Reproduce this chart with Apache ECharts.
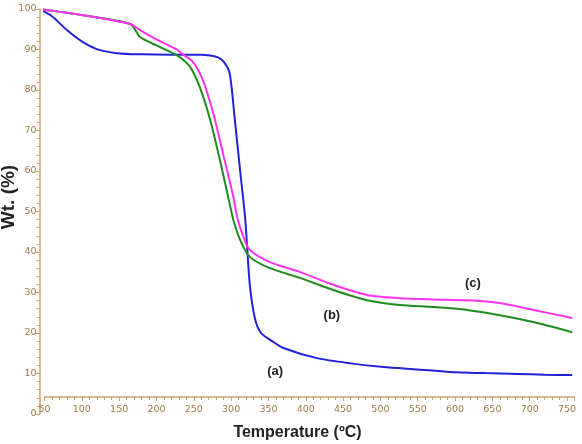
<!DOCTYPE html>
<html><head><meta charset="utf-8">
<script src="https://cdn.jsdelivr.net/npm/echarts@6/dist/echarts.min.js"></script>
<style>html,body{margin:0;padding:0;background:#fff}#c{width:582px;height:444px}</style>
</head><body><div id="c"></div>
<script>
var tempA = [43,60,80,100,120,147,180,220,260,272,283,290,298,305,312,319,325,332,340,355,370,415,460,504,550,593,640,683,720,757];
var wtA   = [100,98.2,94.8,92,90.1,89.1,88.8,88.7,88.7,88.5,88,87,84.2,72.6,60.2,47.9,32,23.5,20,18,16.3,13.8,12.5,11.6,11,10.4,10.1,9.9,9.7,9.6];
var tempB = [43,100,165,178,200,228,245,258,272,285,299,303,312,325,352,392,437,482,526,571,616,660,705,757];
var wtB   = [100,98.5,96.3,93.1,91,88.5,85.7,80.7,72.6,62.7,51.1,47.9,43,38.8,36,33.6,30.6,28.1,26.9,26.4,25.7,24.4,22.7,20.2];
var tempC = [43,100,165,178,200,228,233,249,262,276,289,303,309,318,325,352,392,437,482,526,571,616,660,705,757];
var wtC   = [100,98.5,96.3,94.8,92.5,89.9,89.1,86.9,82.5,74.3,64.4,53.6,47.9,43,40.5,37.5,35.1,31.9,29.4,28.6,28.3,28.1,27.4,25.7,23.7];
var seriesNames = ['(a)','(b)','(c)'];
var labelPos = [[359,10.4],[435,24.4],[624,32.3]];
var xTitle = 'Temperature (ºC)';
var yTitle = 'Wt. (%)';

function pairs(t,w){return t.map(function(v,i){return [v,w[i]];});}
var axisColor = '#c9a46a';
var labelColor = '#a07a45';
var chart = echarts.init(document.getElementById('c'));
function mk(name,t,w,color,lp){
  return {type:'line',name:name,data:pairs(t,w),showSymbol:false,smooth:0.25,clip:false,
    lineStyle:{color:color,width:2},itemStyle:{color:color},
    markPoint:{symbol:'circle',symbolSize:0,data:[{coord:lp,value:name}],
      label:{show:true,position:'inside',formatter:name,color:'#222',fontWeight:'bold',fontSize:13,fontFamily:'Liberation Sans'}}};
}
chart.setOption({
  animation:false,
  grid:{left:44.5,right:7.5,top:9,bottom:30,outerBoundsMode:'none',containLabel:false},
  graphic:[
    {type:'text',x:9,y:197,rotation:Math.PI/2,
      style:{text:yTitle,fill:'#222',font:'bold 19px "Liberation Sans"',align:'center',verticalAlign:'middle'}},
    {type:'text',x:297.5,y:433,
      style:{text:xTitle,fill:'#222',font:'bold 16px "Liberation Sans"',align:'center',verticalAlign:'middle'}}
  ],
  xAxis:{type:'value',min:50,max:760,interval:50,offset:-17,
    axisLine:{show:true,onZero:false,lineStyle:{color:axisColor,width:1.5}},
    axisTick:{show:true,length:4,lineStyle:{color:axisColor}},
    minorTick:{show:true,splitNumber:5,length:3,lineStyle:{color:axisColor}},
    axisLabel:{color:labelColor,fontSize:9.5,fontFamily:'DejaVu Sans',margin:8,showMaxLabel:false,
      formatter:function(v){return v%50===0?String(v):'';}},
    splitLine:{show:false}},
  yAxis:{type:'value',min:0,max:100,interval:10,offset:5,
    axisLine:{show:true,lineStyle:{color:axisColor,width:1.5}},
    axisTick:{show:true,length:4,lineStyle:{color:axisColor}},
    minorTick:{show:true,splitNumber:5,length:3,lineStyle:{color:axisColor}},
    axisLabel:{color:labelColor,fontSize:9.5,fontFamily:'DejaVu Sans',margin:3},
    splitLine:{show:false}},
  series:[
    mk(seriesNames[0],tempA,wtA,'#2222dd',labelPos[0]),
    mk(seriesNames[1],tempB,wtB,'#1e8c1e',labelPos[1]),
    mk(seriesNames[2],tempC,wtC,'#ff33ee',labelPos[2])
  ]
});
</script></body></html>
